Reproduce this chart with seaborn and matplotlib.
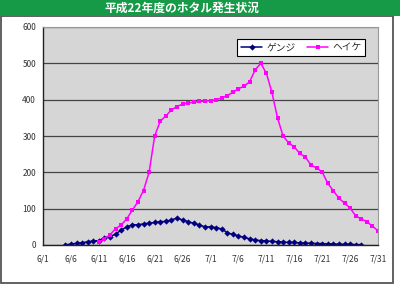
import matplotlib
matplotlib.use("Agg")
import matplotlib.pyplot as plt
import matplotlib.dates as mdates
from matplotlib.patches import Rectangle
import seaborn as sns
import pandas as pd

title = "平成22年度のホタル発生状況"
series_names = ["ゲンジ", "ヘイケ"]

genji_start, genji_end = "2010-06-05", "2010-07-28"
genji = [1, 2, 5, 6, 9, 11, 12, 20, 23, 30, 41, 50, 55, 56, 58, 60, 62, 64, 65, 69,
         74, 69, 64, 60, 55, 50,
         50, 48, 44, 34, 29, 25, 21, 17, 14, 12, 11, 10, 9, 8, 7, 7, 6, 5, 5, 4,
         4, 3, 3, 2, 2, 2, 1, 1]

heike_start, heike_end = "2010-06-11", "2010-07-31"
heike = [8, 17, 28, 45, 55, 72, 96, 119, 150, 200, 300, 341, 355, 372, 381, 388,
         391, 393, 395, 396,
         397, 400, 405, 411, 420, 430, 437, 449, 482, 500, 473, 420, 350, 300, 281,
         270, 252, 242, 220, 212, 201, 170, 149, 129, 115, 102, 80, 72, 64, 52, 39]

x_tick_labels = ["6/1", "6/6", "6/11", "6/16", "6/21", "6/26", "7/1", "7/6",
                 "7/11", "7/16", "7/21", "7/26", "7/31"]
y_ticks = [0, 100, 200, 300, 400, 500, 600]

df = pd.concat([
    pd.DataFrame({"date": pd.date_range(genji_start, genji_end), "count": genji,
                  "kind": series_names[0]}),
    pd.DataFrame({"date": pd.date_range(heike_start, heike_end), "count": heike,
                  "kind": series_names[1]}),
], ignore_index=True)

sns.set_style("white")
plt.rcParams["font.family"] = ["Noto Sans CJK JP", "DejaVu Sans"]

W, H = 400, 286
fig = plt.figure(figsize=(W / 100, H / 100), dpi=100)
fig.patch.set_facecolor("white")

# outer frame
fig.add_artist(Rectangle((0.5 / W, 3 / H), 392.5 / W, 267 / H, transform=fig.transFigure,
                         fill=False, edgecolor="#555555", linewidth=1.3))
# green title bar
fig.add_artist(Rectangle((0, 270 / H), 1, 16 / H, transform=fig.transFigure,
                         facecolor="#169a48", edgecolor="none"))
fig.text(0.455, 278 / H, title, color="white", fontsize=8.5, fontweight="bold",
         ha="center", va="center")

ax = fig.add_axes([43 / W, 41 / H, 335 / W, 218 / H])
ax.set_facecolor("#d6d6d6")

palette = {series_names[0]: "#000080", series_names[1]: "#ff00ff"}
markers = {series_names[0]: "D", series_names[1]: "s"}
sns.lineplot(data=df, x="date", y="count", hue="kind", style="kind",
             palette=palette, markers=markers, dashes=False, markersize=3.2,
             markeredgewidth=0, linewidth=1.1, ax=ax)

tick_dates = [pd.Timestamp(f"2010-{t.split('/')[0]}-{t.split('/')[1]}") for t in x_tick_labels]
ax.set_xticks(tick_dates)
ax.set_xticklabels(x_tick_labels)
ax.set_xlim(tick_dates[0], tick_dates[-1])
ax.set_ylim(0, 600)
ax.set_yticks(y_ticks)
ax.set_xlabel("")
ax.set_ylabel("")
ax.yaxis.grid(True, color="#444444", linewidth=0.9)
ax.xaxis.grid(False)
ax.set_axisbelow(True)
ax.tick_params(axis="both", labelsize=6, colors="#333333", length=0, pad=5)
ax.tick_params(axis="x", length=3, direction="out", color="#222222", pad=4)
for s in ["left", "bottom"]:
    ax.spines[s].set_color("#222222")
    ax.spines[s].set_linewidth(1.0)
for s in ["top", "right"]:
    ax.spines[s].set_color("#999999")
    ax.spines[s].set_linewidth(0.8)

leg = ax.legend(ncol=2, loc="upper right", bbox_to_anchor=(0.961, 0.945),
                borderaxespad=0, fontsize=7, frameon=True, fancybox=False,
                handlelength=2.2, columnspacing=1.2, handletextpad=0.4,
                borderpad=0.35)
leg.get_frame().set_edgecolor("black")
leg.get_frame().set_linewidth(0.8)
leg.get_frame().set_facecolor("white")
leg.get_frame().set_alpha(1)

fig.savefig("out.png", dpi=100)
